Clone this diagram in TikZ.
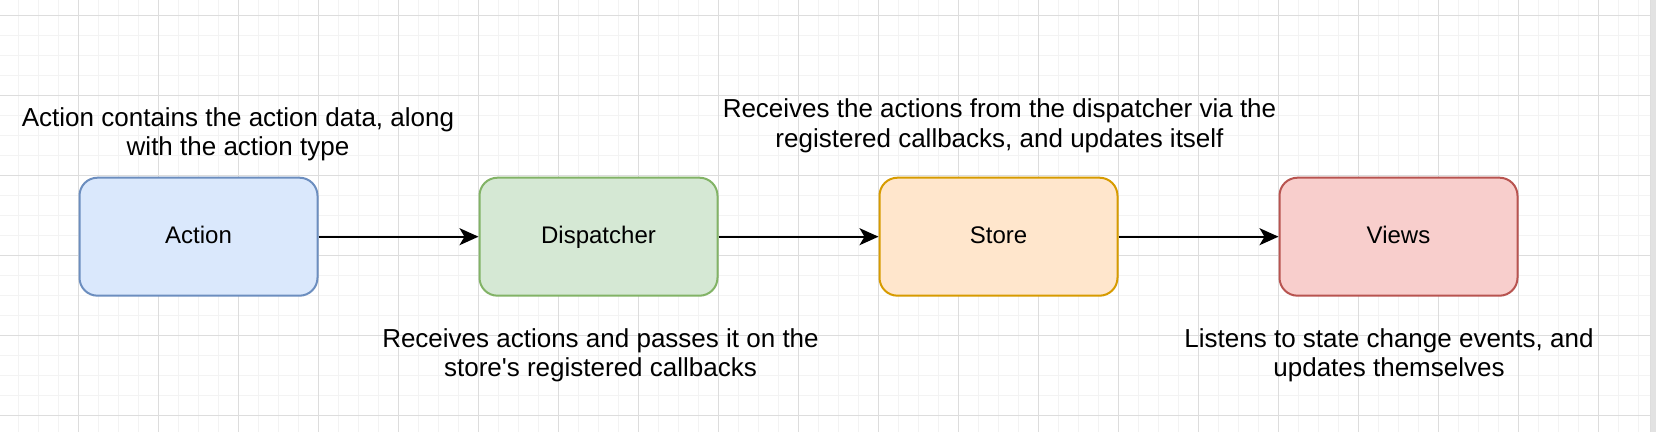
\documentclass[tikz,border=0pt]{standalone}
\usepackage{fontspec}
\setmainfont{Liberation Sans}
\usetikzlibrary{arrows.meta}
\definecolor{majorgrid}{HTML}{DDDDDD}
\definecolor{minorgrid}{HTML}{F3F3F3}
\definecolor{actfill}{HTML}{DAE8FC}\definecolor{actdraw}{HTML}{6C8EBF}
\definecolor{disfill}{HTML}{D5E8D4}\definecolor{disdraw}{HTML}{82B366}
\definecolor{stofill}{HTML}{FFE6CC}\definecolor{stodraw}{HTML}{D79B00}
\definecolor{viefill}{HTML}{F8CECC}\definecolor{viedraw}{HTML}{B85450}
\definecolor{scrollbar}{HTML}{E2E2E2}
\begin{document}
\begin{tikzpicture}[x=0.5pt,y=-0.5pt,
  minorline/.style={draw=minorgrid,line width=0.5pt},
  majorline/.style={draw=majorgrid,line width=0.5pt},
  box/.style={draw,rounded corners=9pt,minimum width=119pt,minimum height=59pt,
    line width=1pt,inner sep=0pt,text height=0.72em,text depth=0pt,
    font=\fontsize{12}{14}\selectfont},
  note/.style={align=center,inner sep=0pt,font=\fontsize{13}{14.85}\selectfont},
  arr/.style={draw=black,line width=1pt,-{Stealth[length=9.5pt,width=8.5pt,inset=2.5pt]}}]
\useasboundingbox (0,0) rectangle (1656,432);
\fill[white] (0,0) rectangle (1656,432);
% grid
\foreach \i in {0,...,81} \draw[minorline] (18.5+20*\i,0) -- (18.5+20*\i,432);
\foreach \j in {0,...,20} \draw[minorline] (0,16+20*\j) -- (1650,16+20*\j);
\foreach \i in {0,...,19} \draw[majorline] (78.5+80*\i,0) -- (78.5+80*\i,432);
\foreach \j in {0,...,5} \draw[majorline] (0,16+80*\j) -- (1650,16+80*\j);
% scrollbar edge
\fill[scrollbar] (1650,0) rectangle (1656,432);
\draw[draw=majorgrid,line width=0.5pt] (1650.5,0) -- (1650.5,432);
% boxes
\node[box,fill=actfill,draw=actdraw] (action) at (198.5,236.7) {Action};
\node[box,fill=disfill,draw=disdraw] (dispatcher) at (598.5,236.7) {Dispatcher};
\node[box,fill=stofill,draw=stodraw] (store) at (998.5,236.7) {Store};
\node[box,fill=viefill,draw=viedraw] (views) at (1398.5,236.7) {Views};
% arrows
\draw[arr] (action.east) -- (dispatcher.west);
\draw[arr] (dispatcher.east) -- (store.west);
\draw[arr] (store.east) -- (views.west);
% notes
\node[note,anchor=north] (n1) at (238,107) {Action contains the action data, along\\with the action type};
\node[note,anchor=north] (n2) at (600.5,328) {Receives actions and passes it on the\\store\textquotesingle s registered callbacks};
\node[note,anchor=north] (n3) at (999.5,98.3) {Receives the actions from the dispatcher via the\\registered callbacks, and updates itself};
\node[note,anchor=north] (n4) at (1389,328) {Listens to state change events, and\\updates themselves};
\end{tikzpicture}
\end{document}
